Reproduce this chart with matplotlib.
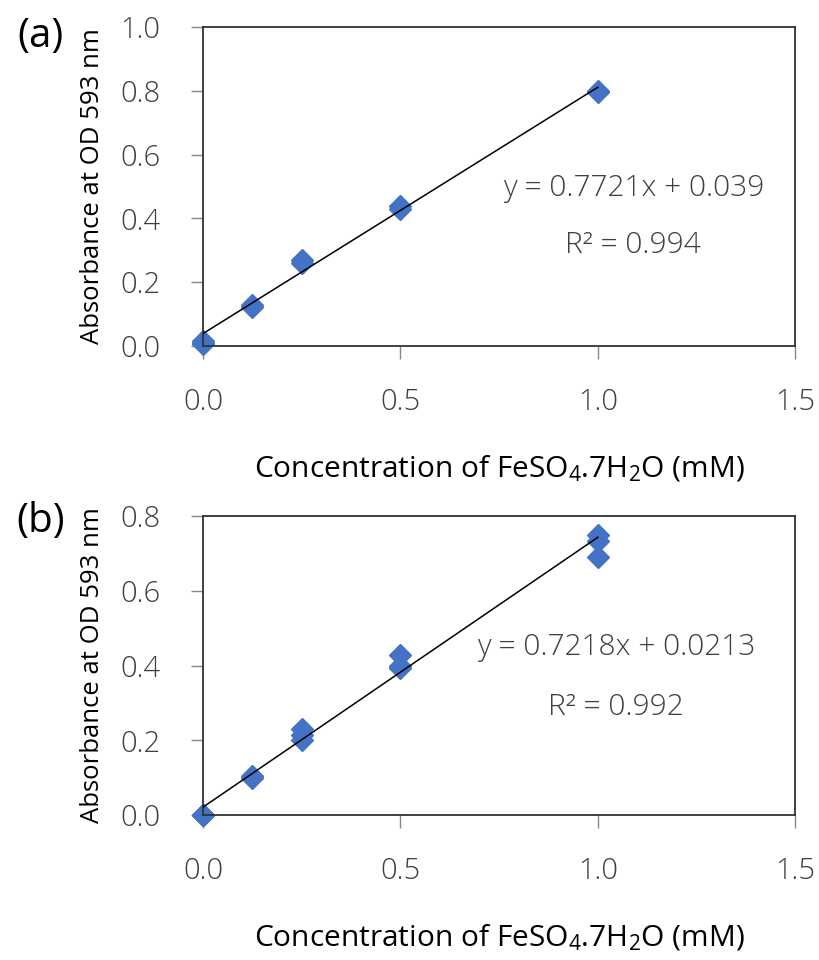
import numpy as np
import matplotlib
matplotlib.use("Agg")
import matplotlib.pyplot as plt

# panel (a) data
xa = [0, 0, 0, 0.125, 0.125, 0.25, 0.25, 0.5, 0.5, 1.0, 1.0]
ya = [0.005, 0.01, 0.015, 0.123, 0.13, 0.26, 0.27, 0.43, 0.44, 0.795, 0.80]
fit_a = (0.7721, 0.039)
eq_a = "y = 0.7721x + 0.039"
r2_a = "R² = 0.994"

# panel (b) data
xb = [0, 0, 0, 0.125, 0.125, 0.25, 0.25, 0.25, 0.5, 0.5, 0.5, 1.0, 1.0, 1.0]
yb = [0.0, 0.0, 0.0, 0.10, 0.105, 0.20, 0.214, 0.23, 0.393, 0.40, 0.428, 0.691, 0.734, 0.749]
fit_b = (0.7218, 0.0213)
eq_b = "y = 0.7218x + 0.0213"
r2_b = "R² = 0.992"

xticks = [0.0, 0.5, 1.0, 1.5]
xlabel = "Concentration of FeSO$_4$.7H$_2$O (mM)"
ylabel = "Absorbance at OD 593 nm"
blue = "#4472C4"

plt.rcParams['font.family'] = ['Open Sans', 'DejaVu Sans']
plt.rcParams['mathtext.fontset'] = 'custom'
plt.rcParams['mathtext.rm'] = 'Open Sans'
plt.rcParams['mathtext.default'] = 'rm'

fig = plt.figure(figsize=(8.19, 9.6), dpi=100)
ax1 = fig.add_axes([0.248, 0.6396, 0.723, 0.3323])
ax2 = fig.add_axes([0.248, 0.151, 0.723, 0.3115])


def panel(ax, x, y, fit, eq, r2, ymax, eqpos, r2pos, tag, tagy):
    ax.plot(x, y, 'D', color=blue, ms=11, mec=blue, zorder=2, clip_on=False)
    xs = np.array([0, 1.0])
    ax.plot(xs, fit[0] * xs + fit[1], color='black', lw=1.1, zorder=3)
    ax.set_xlim(0, 1.5)
    ax.set_ylim(0, ymax)
    yt = np.arange(0, ymax + 0.01, 0.2)
    ax.set_xticks(xticks)
    ax.set_xticklabels([f"{t:.1f}" for t in xticks], fontweight='light')
    ax.set_yticks(yt)
    ax.set_yticklabels([f"{t:.1f}" for t in yt], fontweight='light')
    ax.tick_params(labelsize=21, length=9, width=1, color='#888888', labelcolor='#404040')
    ax.tick_params(axis='y', pad=22)
    ax.tick_params(axis='x', pad=21)
    for s in ax.spines.values():
        s.set_color('#333333')
        s.set_linewidth(1.3)
    ax.set_xlabel(xlabel, fontsize=21.5, labelpad=26)
    ax.set_ylabel(ylabel, fontsize=18.5, labelpad=11)
    ax.text(eqpos[0], eqpos[1], eq, fontsize=21.5, ha='center', va='center',
            color='#404040', fontweight='light')
    ax.text(r2pos[0], r2pos[1], r2, fontsize=21.5, ha='center', va='center',
            color='#404040', fontweight='light')
    ax.text(-0.275, tagy, tag, transform=ax.transAxes, fontsize=29, ha='center', va='center')


panel(ax1, xa, ya, fit_a, eq_a, r2_a, 1.0, (1.09, 0.495), (1.09, 0.317), "(a)", 0.97)
panel(ax2, xb, yb, fit_b, eq_b, r2_b, 0.8, (1.046, 0.449), (1.046, 0.289), "(b)", 0.982)

fig.savefig("out.png", dpi=100)
